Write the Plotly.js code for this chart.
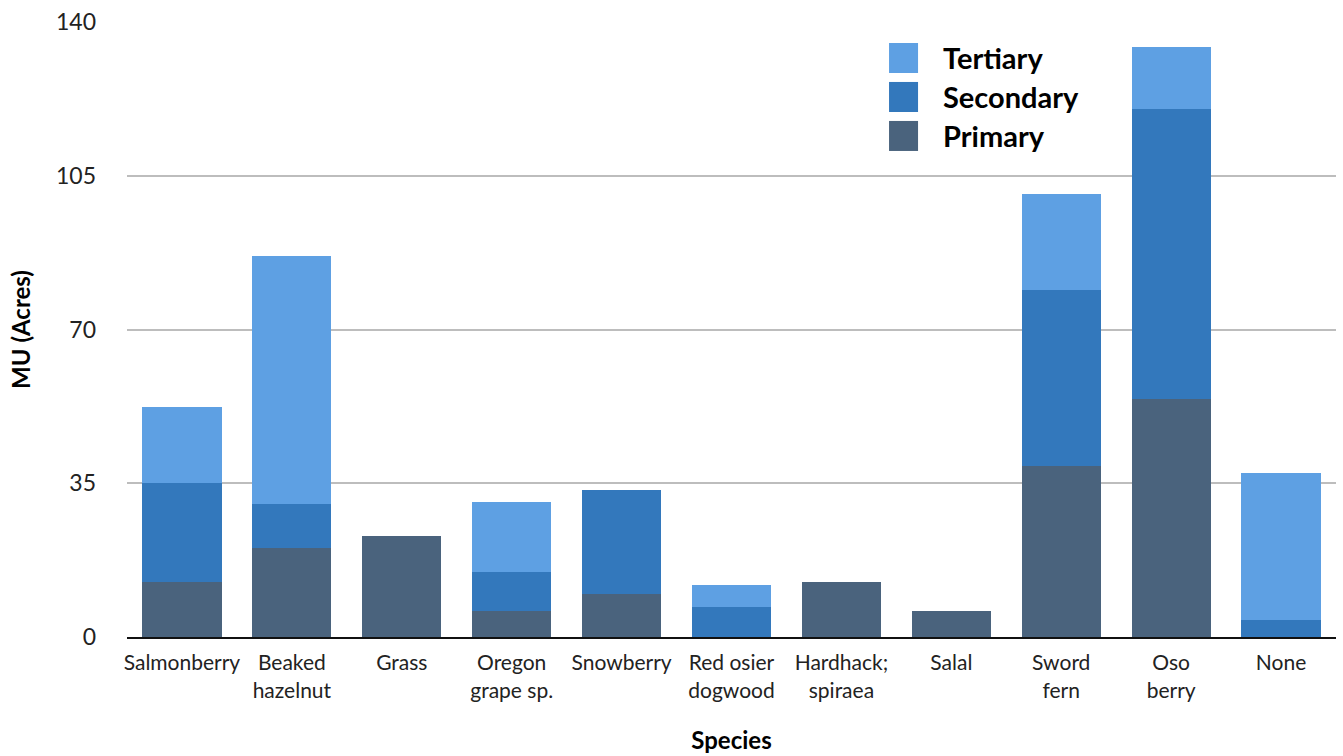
<!DOCTYPE html>
<html>
<head>
<meta charset="utf-8">
<script src="https://cdn.plot.ly/plotly-3.0.1.min.js"></script>
<style>
  html, body { margin: 0; padding: 0; background: #fff; }
  #chart { width: 1343px; height: 756px; }
</style>
</head>
<body>
<div id="chart"></div>
<script>
// Species categories (two-line labels use <br>)
const species = [
  "Salmonberry", "Beaked<br>hazelnut", "Grass", "Oregon<br>grape sp.", "Snowberry",
  "Red osier<br>dogwood", "Hardhack;<br>spiraea", "Salal", "Sword<br>fern", "Oso<br>berry", "None"
];

// Management-unit acreage by habitat class
const primary   = [12.5, 20.3, 23.0, 5.9, 9.8, 0,   12.5, 5.9, 39.0, 54.1, 0];
const secondary = [22.5, 10.0, 0,    8.9, 23.7, 6.8, 0,    0,   39.9, 66.2, 3.8];
const tertiary  = [17.4, 56.4, 0,    15.9, 0,   5.0, 0,    0,   22.0, 13.9, 33.6];

const seriesNames  = ["Primary", "Secondary", "Tertiary"];
const seriesColors = ["#4a637d", "#3378bc", "#5ea0e3"];
const yTicks = [0, 35, 70, 105, 140];

const FONT = "Lato, 'Open Sans', sans-serif";

const traces = [primary, secondary, tertiary].map((vals, i) => ({
  type: "bar",
  x: species,
  y: vals,
  name: seriesNames[i],
  marker: { color: seriesColors[i], line: { width: 0 } },
  showlegend: false,
  hoverinfo: "x+y+name"
}));

// Legend drawn as large swatches with bold labels, topmost series first
const legendShapes = [];
const legendNotes = [];
const legendOrder = [2, 1, 0];
const swatchX0 = 0.6303, swatchX1 = 0.6543, textX = 0.6733;
const rowTop = 0.9659, rowStep = 0.0634, swatchH = 0.0488;
legendOrder.forEach((s, r) => {
  const y1 = rowTop - r * rowStep;
  const y0 = y1 - swatchH;
  legendShapes.push({
    type: "rect", xref: "paper", yref: "paper",
    x0: swatchX0, x1: swatchX1, y0: y0, y1: y1,
    fillcolor: seriesColors[s], line: { width: 0 }
  });
  legendNotes.push({
    xref: "paper", yref: "paper", x: textX, y: (y0 + y1) / 2,
    xanchor: "left", yanchor: "middle", showarrow: false,
    text: "<b>" + seriesNames[s] + "</b>",
    font: { family: FONT, size: 29, color: "#000" }
  });
});

const layout = {
  width: 1343,
  height: 756,
  margin: { l: 127, r: 7, t: 22, b: 119 },
  paper_bgcolor: "#ffffff",
  plot_bgcolor: "#ffffff",
  barmode: "stack",
  bargap: 0.28,
  font: { family: FONT, size: 21, color: "#222" },
  xaxis: {
    type: "category",
    showgrid: false,
    showline: true,
    linecolor: "#111",
    linewidth: 2,
    ticks: "",
    ticklabelstandoff: 6,
    tickfont: { family: FONT, size: 21, color: "#222" },
    title: {
      text: "<b>Species</b>",
      font: { family: FONT, size: 24, color: "#000" },
      standoff: 32
    },
    automargin: false
  },
  yaxis: {
    range: [0, 140],
    tickvals: yTicks,
    ticktext: yTicks.map(String),
    showgrid: true,
    gridcolor: "#bdbdbd",
    gridwidth: 2,
    zeroline: false,
    showline: false,
    ticks: "",
    ticklabelstandoff: 30,
    tickfont: { family: FONT, size: 23, color: "#222" },
    title: {
      text: "<b>MU (Acres)</b>",
      font: { family: FONT, size: 24, color: "#000" },
      standoff: 18
    },
    automargin: false
  },
  shapes: legendShapes,
  annotations: legendNotes,
  showlegend: false
};

Plotly.newPlot("chart", traces, layout, { displayModeBar: false, staticPlot: true });
</script>
</body>
</html>
